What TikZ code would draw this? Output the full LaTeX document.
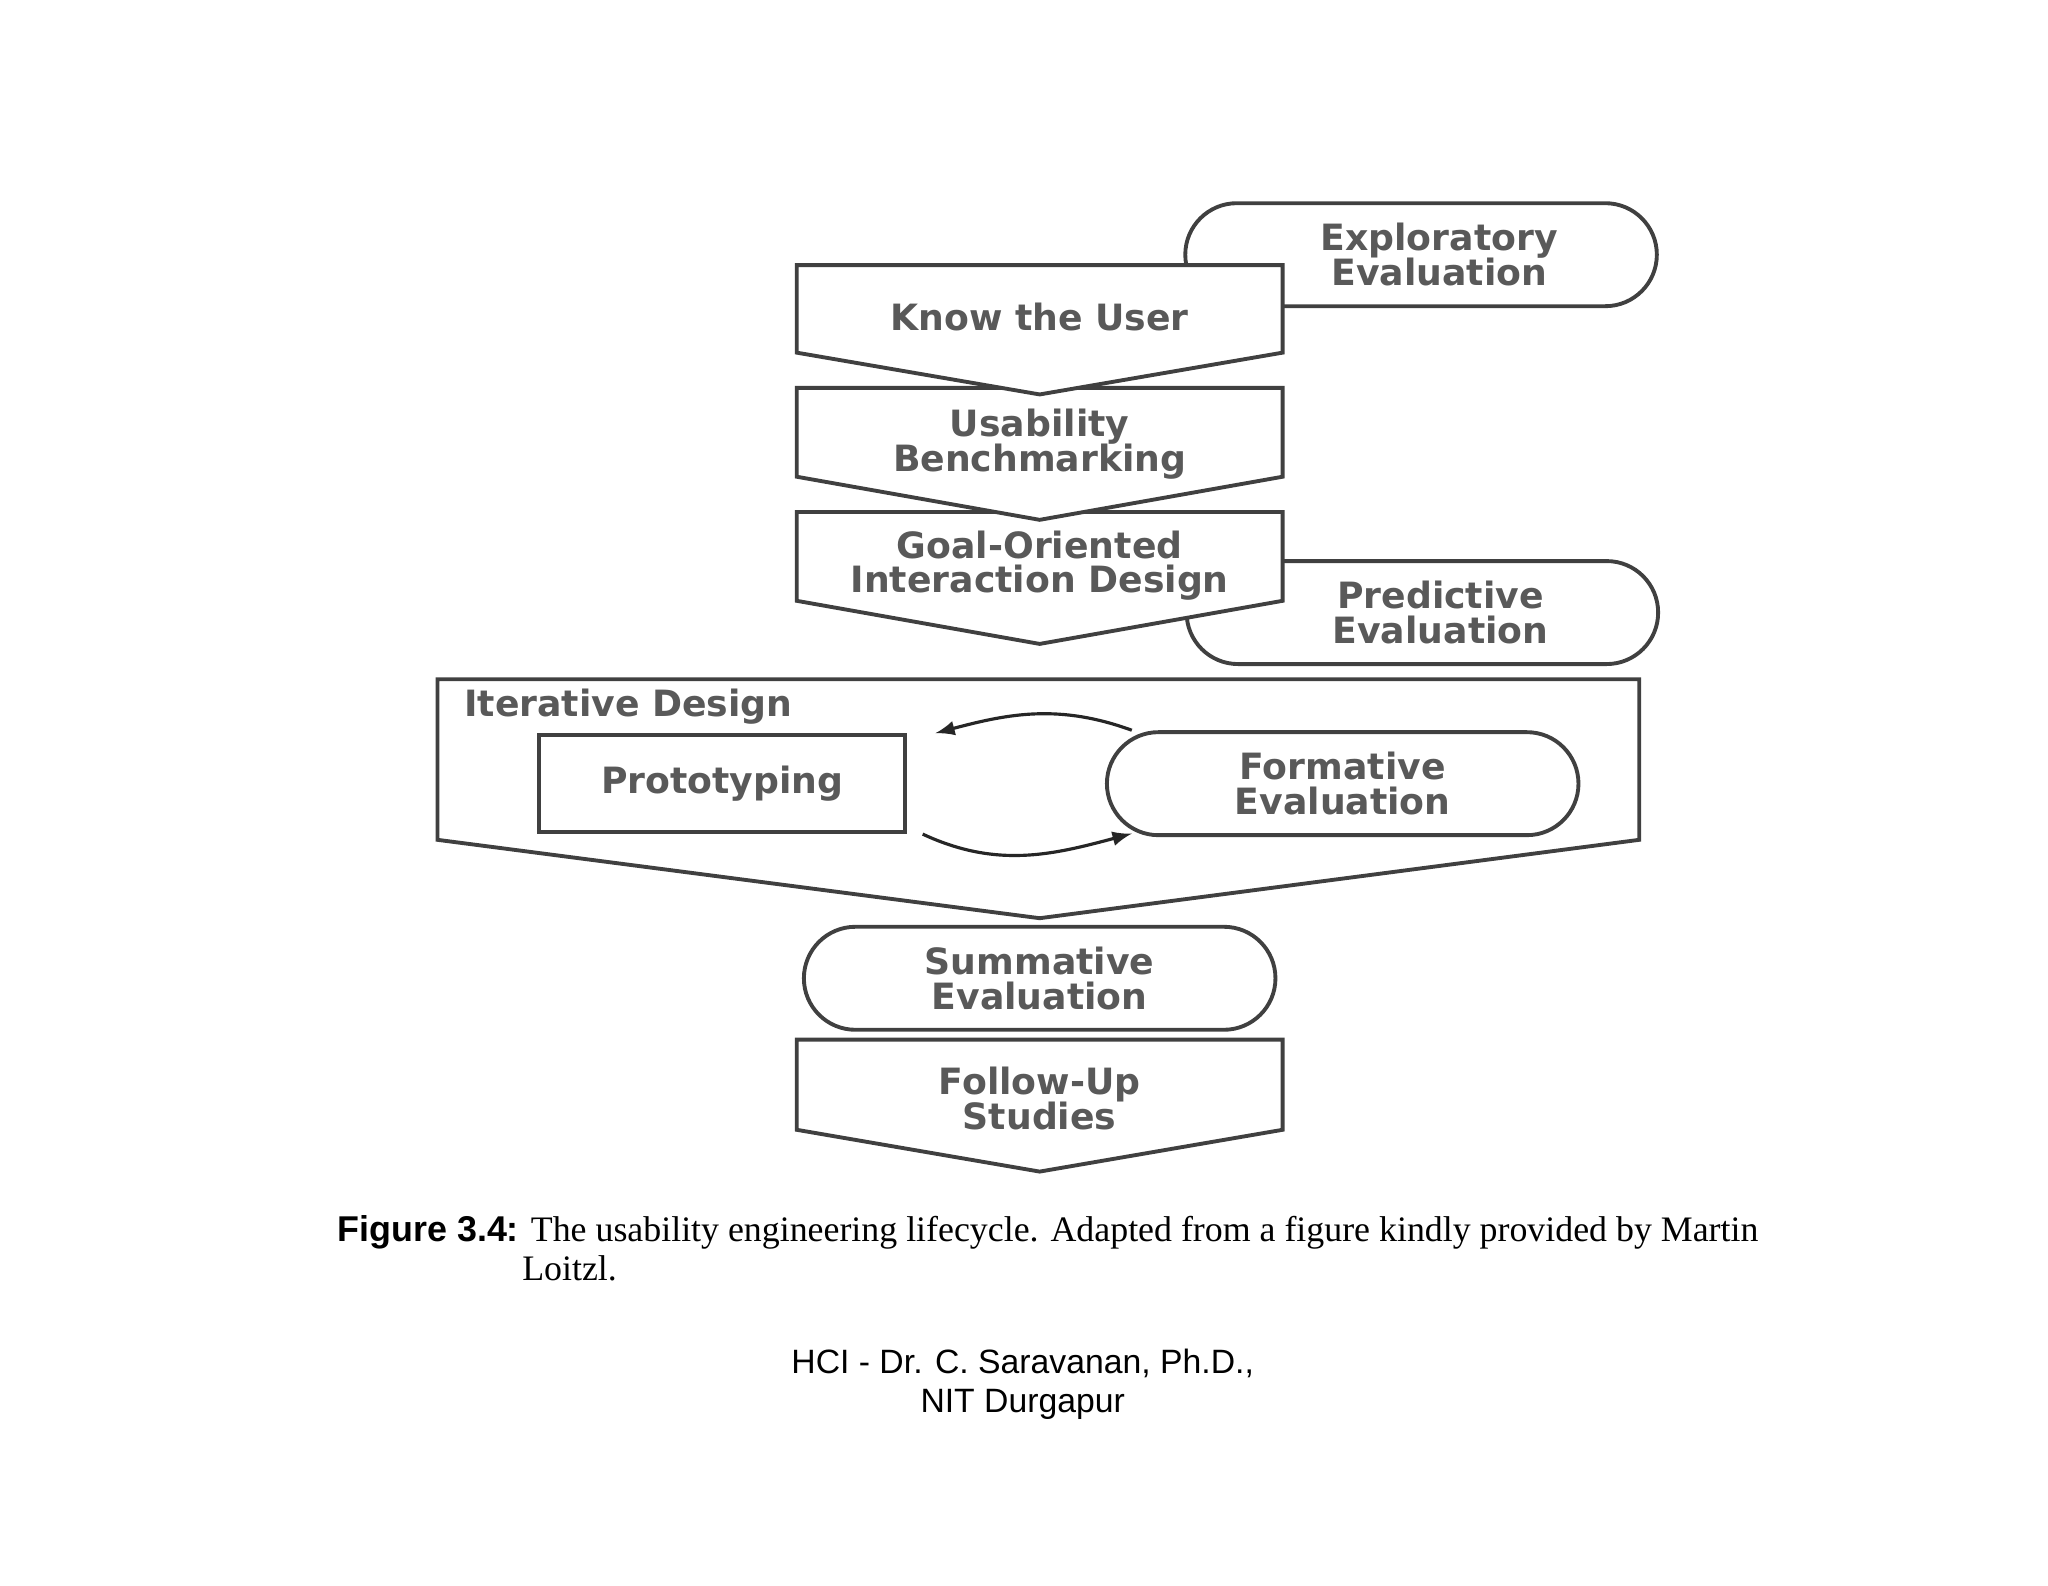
\documentclass[tikz,border=0pt]{standalone}
\usepackage{fontspec}
\setmainfont{Liberation Serif}
\newfontfamily\boxfont{DejaVu Sans}
\newfontfamily\footfont{Liberation Sans}
\newcommand\boxtext{\boxfont\bfseries\fontsize{10.3}{9.8}\selectfont\lineskiplimit=-20pt\relax}
\usetikzlibrary{positioning, shapes}

\begin{document}
\begin{tikzpicture}[x=0.01306cm, y=-0.01306cm]
\tikzstyle{frame}=[draw=black!75, line width=1.1pt, fill=white]
\tikzstyle{txt}=[font=\boxtext, text=black!65, align=center]
\tikzstyle{stadium}=[frame, rounded rectangle, minimum width=4.95cm, minimum height=1.03cm, txt]
\tikzstyle{loop}=[draw=black!85, line width=0.9pt, -latex]
\useasboundingbox (0,0) rectangle (1568,1214);
% side evaluations behind the flow
\node[stadium] (explore) at (1088,195) {\hspace*{1em}Exploratory\\\hspace*{1em}Evaluation};
\node[stadium] (predict) at (1089,469) {\hspace*{1em}Predictive\\\hspace*{1em}Evaluation};
% main flow, drawn bottom up so each point lies on the next box
\draw[frame] (610,796) -- (982,796) -- (982,865) -- (796,897) -- (610,865) -- cycle;
\node[txt] (follow) at (796,841) {Follow-Up\\Studies};
\node[stadium] (summ) at (796,749) {Summative\\Evaluation};
\draw[frame] (335,520) -- (1255,520) -- (1255,643) -- (796,703) -- (335,643) -- cycle;
\node[txt, anchor=west] (iter) at (346,541) {Iterative Design};
\node[frame, txt, minimum width=3.66cm, minimum height=0.97cm] (proto) at (553,600) {Prototyping};
\node[stadium] (form) at (1028,600) {Formative\\Evaluation};
\draw[loop] ([xshift=-60pt]form.north) to[out=160, in=15] ([xshift=8pt]proto.north east);
\draw[loop] ([xshift=4.4pt]proto.south east) to[out=-25, in=195] ([xshift=-60pt, yshift=1pt]form.south);
\draw[frame] (610,392) -- (982,392) -- (982,460) -- (796,493) -- (610,460) -- cycle;
\node[txt] (goal) at (796,433) {Goal-Oriented\\Interaction Design};
\draw[frame] (610,297) -- (982,297) -- (982,365) -- (796,398) -- (610,365) -- cycle;
\node[txt] (bench) at (796,340) {Usability\\Benchmarking};
\draw[frame] (610,203) -- (982,203) -- (982,270) -- (796,302) -- (610,270) -- cycle;
\node[txt] (user) at (796,243) {Know the User};
% caption and footer
\node[anchor=north west, align=left, font=\fontsize{10.2}{11}\selectfont, inner sep=0] (cap) at (258,930)
  {{\footfont\bfseries Figure 3.4:} The usability engineering lifecycle. Adapted from a figure kindly provided by Martin\\
  \hspace*{5.15em}Loitzl.};
\node[font=\footfont\fontsize{9.6}{11.1}\selectfont, align=center] (foot) at (783,1060)
  {HCI - Dr. C. Saravanan, Ph.D.,\\NIT Durgapur};
\end{tikzpicture}
\end{document}
